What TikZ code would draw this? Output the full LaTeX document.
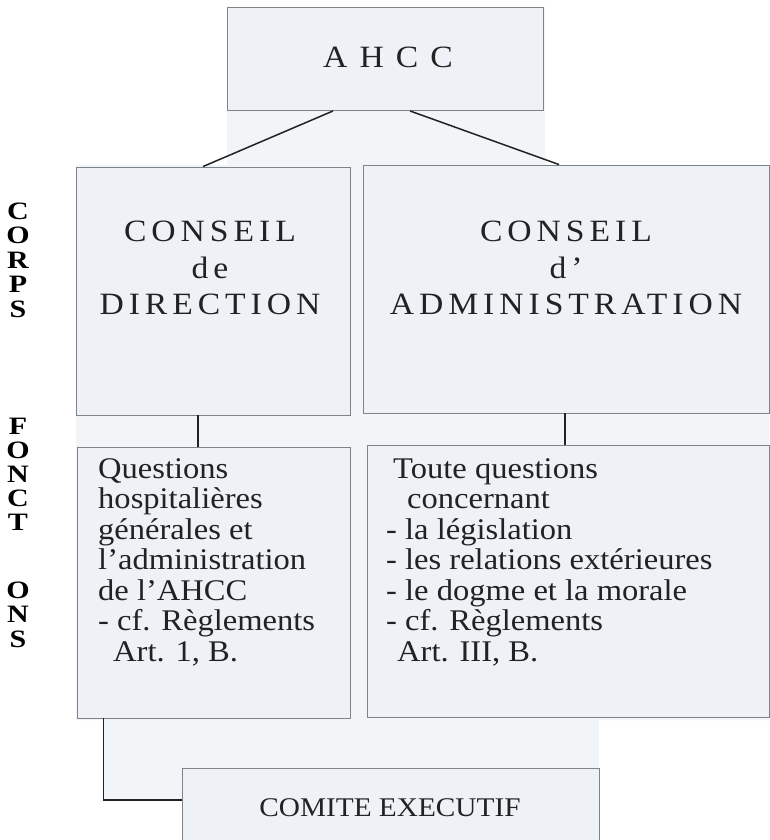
\documentclass[tikz,border=0pt]{standalone}
\usepackage{fontspec}
\setmainfont{Liberation Serif}[FakeStretch=1.085]
\newfontfamily\sidefont{Liberation Serif}[FakeStretch=1.2]
\usetikzlibrary{calc}
\definecolor{bgtint}{HTML}{F2F5F8}
\definecolor{boxfill}{HTML}{EEF2F6}
\definecolor{boxline}{HTML}{7E848A}
\definecolor{inkc}{HTML}{222222}
\tikzset{
  box/.style={rectangle, draw=boxline, fill=boxfill, line width=0.9pt, inner sep=0pt},
  conn/.style={draw=inkc, line width=1.5pt},
  headtxt/.style={inner sep=0pt, align=center, text=inkc, font=\fontsize{31}{36.5}\selectfont\addfontfeatures{LetterSpace=16}},
  bodytxt/.style={inner sep=0pt, align=left, anchor=north west, text=inkc, font=\fontsize{30}{30.5}\selectfont},
  sideletter/.style={inner sep=0pt, text=black, font=\sidefont\bfseries\fontsize{25}{25}\selectfont}
}
\begin{document}
\begin{tikzpicture}[x=1pt,y=-1pt]
\clip (0,0) rectangle (770,840);
\fill[white] (0,0) rectangle (770,840);
\fill[bgtint] (227,7) -- (545,7) -- (545,165) -- (769,165) -- (769,720) -- (599,720)
  -- (599,840) -- (182,840) -- (182,800) -- (104,800) -- (104,720) -- (76,720)
  -- (76,165) -- (227,165) -- cycle;

% boxes
\node[box, minimum width=316pt, minimum height=103pt] (ahcc) at (385,59) {};
\node[box, minimum width=274pt, minimum height=248pt] (cd) at (213,291) {};
\node[box, minimum width=406pt, minimum height=248pt] (ca) at (566,289) {};
\node[box, minimum width=273pt, minimum height=271pt] (ql) at (213.5,582.5) {};
\node[box, minimum width=402pt, minimum height=272pt] (qr) at (568,581) {};
\node[box, minimum width=417pt, minimum height=82pt] (ce) at (390.5,809) {};

% texts
\node[headtxt, font=\fontsize{31}{36}\selectfont\addfontfeatures{LetterSpace=39}] (ahcct) at (388,57) {AHCC};
\node[headtxt] (cdt) at (210,268) {CONSEIL\\de\\DIRECTION};
\node[headtxt] (cat) at (566,268) {CONSEIL\\d'\\ADMINISTRATION};
\node[bodytxt] (qlt) at (98,458) {Questions\\hospitalières\\générales et\\l'administration\\de l'AHCC\\- cf. Règlements\\\hspace*{15pt}Art. 1, B.};
\node[bodytxt] (qrt) at (386,458) {\hspace*{7pt}Toute questions\\\hspace*{21pt}concernant\\- la législation\\- les relations extérieures\\- le dogme et la morale\\- cf. Règlements\\\hspace*{11pt}Art. III, B.};
\node[inner sep=0pt, text=inkc, font=\fontsize{27}{30}\selectfont] (cet) at (390,808) {COMITE EXECUTIF};

% side letters
\foreach \l/\y [count=\i] in {C/211,O/235.5,R/260,P/284.5,S/309,F/426,O/450,N/474,C/498,T/522,O/590,N/614.5,S/639}
  \node[sideletter] (side\i) at (18,\y) {\l};

% connectors
\draw[conn] ([xshift=-52pt]ahcc.south) -- ([xshift=-10pt]cd.north);
\draw[conn] ([xshift=25pt]ahcc.south) -- ([xshift=-7pt]ca.north);
\draw[conn] ([xshift=-15pt]cd.south) -- ([xshift=-15pt]cd.south |- ql.north);
\draw[conn] ([xshift=-1pt]ca.south) -- ([xshift=-1pt]ca.south |- qr.north);
\draw[conn] ([xshift=27pt]ql.south west) |- ([yshift=9pt]ce.west);
\end{tikzpicture}
\end{document}
